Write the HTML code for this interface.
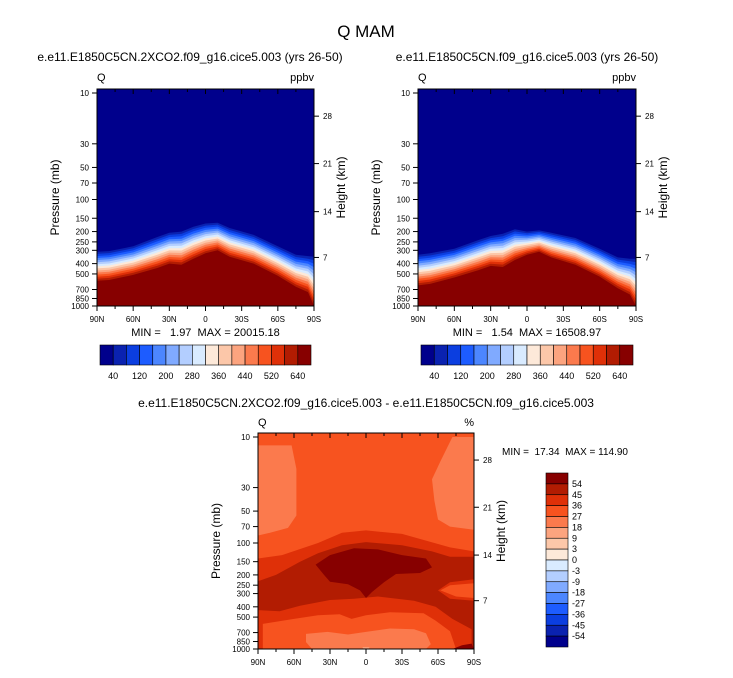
<!DOCTYPE html>
<html><head><meta charset="utf-8">
<style>
body{margin:0;background:#fff;width:733px;height:673px;overflow:hidden;font-family:"Liberation Sans",sans-serif}
svg text{font-family:"Liberation Sans",sans-serif;white-space:pre}
</style></head>
<body>
<svg id="fig" width="733" height="673" viewBox="0 0 733 673" xmlns="http://www.w3.org/2000/svg">
<text x="366" y="37" font-size="17" text-anchor="middle">Q MAM</text>
</svg>
<script>
// ---- data ----
const pressureTicks=[10,30,50,70,100,150,200,250,300,400,500,700,850,1000];
const heightTicks=[28,21,14,7];
const heightTickP=[16.5,46,130,350];
const latTicks=[90,60,30,0,-30,-60,-90];
const latLabels=["90N","60N","30N","0","30S","60S","90S"];
const levelLabelsTop=["40","120","200","280","360","440","520","640"];
const levelLabelsDiff=["54","45","36","27","18","9","3","0","-3","-9","-18","-27","-36","-45","-54"];
const colors=["#00008c","#0a22b0","#0b3ee0","#1d5cff","#4c86ff","#80aaff","#b3ceff","#d9ebff","#fde9d9","#fcc7a9","#fca47f","#fb7a4d","#f7531f","#df3008","#b21c02","#870000"];
// top panels: latitude grid, tropopause (gradient top) and dark-red top pressures
const lats=[90,80,60,40,30,20,10,0,-10,-20,-40,-60,-75,-85,-90];
const gradTopL=[310,305,275,225,205,200,180,168,165,185,215,275,330,340,345];
const redTopL=[580,570,510,440,400,410,360,320,300,345,400,520,660,740,1000];
const gradTopR=[330,320,290,240,220,210,190,200,195,205,230,290,350,360,360];
const redTopR=[640,620,540,460,420,430,370,330,310,350,410,530,680,780,1000];
// difference panel contour polygons [lat,p]
const diffRegions=[
 {c:11,pts:[[90,12],[62,12],[58,20],[58,55],[65,72],[80,80],[90,85]]},
 {c:11,pts:[[-72,10],[-90,10],[-90,75],[-70,70],[-60,60],[-57,40],[-55,25],[-62,17]]},
 {c:13,pts:[[90,140],[70,130],[40,100],[20,80],[0,76],[-30,82],[-50,95],[-70,110],[-90,120],[-90,1000],[90,1000]]},
 {c:14,pts:[[90,230],[75,200],[55,150],[40,125],[20,105],[0,98],[-30,105],[-55,120],[-70,135],[-90,135],[-90,220],[-70,235],[-60,280],[-70,335],[-90,350],[-90,1000],[90,1000]]},
 {c:12,pts:[[-62,280],[-70,250],[-90,240],[-90,330],[-75,320]]},
 {c:13,pts:[[90,430],[72,440],[55,390],[30,345],[10,335],[-10,320],[-40,350],[-58,400],[-72,520],[-88,650],[-88,1000],[90,1000]]},
 {c:12,pts:[[86,580],[60,520],[40,480],[22,470],[12,520],[0,480],[-20,450],[-48,460],[-58,540],[-70,680],[-75,1000],[86,1000]]},
 {c:11,pts:[[50,720],[32,690],[15,730],[0,690],[-20,640],[-40,650],[-50,710],[-54,900],[-50,1000],[45,1000],[50,860]]},
 {c:10,pts:[[3,960],[-3,960],[-2,1000],[2,1000]]},
 {c:15,pts:[[42,160],[30,130],[10,112],[-10,115],[-30,130],[-50,140],[-55,170],[-45,192],[-25,196],[-15,235],[-5,290],[0,330],[5,280],[15,245],[30,232],[35,200]]},
 {c:15,pts:[[-72,1000],[-80,920],[-88,890],[-90,1000]]}
];
// ---- drawing ----
const NS="http://www.w3.org/2000/svg";
const svg=document.getElementById('fig');
function el(t,a,parent){const e=document.createElementNS(NS,t);for(const k in a)e.setAttribute(k,a[k]);(parent||svg).appendChild(e);return e;}
function txt(x,y,s,size,anchor,parent){const e=el('text',{x:x,y:y,'font-size':size,'text-anchor':anchor||'middle'},parent);e.textContent=s;return e;}
function mkAxes(x0,x1,yTop,y10,y1000){
  return {x:lat=>x0+(90-lat)/180*(x1-x0), y:p=>y10+Math.log10(p/10)/2*(y1000-y10)};
}
function frame(g,x0,x1,yTop,yBot,ax){
  el('rect',{x:x0,y:yTop,width:x1-x0,height:yBot-yTop,fill:'none',stroke:'#000','stroke-width':1},g);
  pressureTicks.forEach(p=>{const y=ax.y(p);el('line',{x1:x0-5,x2:x0,y1:y,y2:y,stroke:'#000'},g);txt(x0-8,y+3,String(p),8,'end',g);});
  heightTicks.forEach((h,i)=>{const y=ax.y(heightTickP[i]);el('line',{x1:x1,x2:x1+5,y1:y,y2:y,stroke:'#000'},g);txt(x1+9,y+3,String(h),8,'start',g);});
  latTicks.forEach((l,i)=>{const x=ax.x(l);el('line',{x1:x,x2:x,y1:yBot,y2:yBot+5,stroke:'#000'},g);el('line',{x1:x,x2:x,y1:yTop,y2:yTop+5,stroke:'#000'},g);txt(x,yBot+16,latLabels[i],8,'middle',g);});
  for(let l=75;l>-90;l-=15){if(l%30===0)continue;const x=ax.x(l);el('line',{x1:x,x2:x,y1:yBot,y2:yBot+3,stroke:'#000'},g);el('line',{x1:x,x2:x,y1:yTop,y2:yTop+3,stroke:'#000'},g);}
  const yl=txt(0,0,'Pressure (mb)',12,'middle',g);yl.setAttribute('transform',`translate(${x0-38},${(yTop+yBot)/2}) rotate(-90)`);
  const hl=txt(0,0,'Height (km)',12,'middle',g);hl.setAttribute('transform',`translate(${x1+31},${(yTop+yBot)/2-10}) rotate(-90)`);
}
function topPanel(name,x0,x1,gradTop,redTop,sub,subX,minmax){
  const g=el('g',{});
  
  
  const yTop=89,yBot=306,ax=mkAxes(x0,x1,yTop,93,306);
  const clipId=name+'-clip';
  const cp=el('clipPath',{id:clipId},g);el('rect',{x:x0,y:yTop,width:x1-x0,height:yBot-yTop},cp);
  const fg=el('g',{'clip-path':`url(#${clipId})`},g);
  el('rect',{x:x0,y:yTop,width:x1-x0,height:yBot-yTop,fill:colors[0]},fg);
  for(let k=1;k<16;k++){
    const f=(k-1)/14;
    let d='';
    lats.forEach((l,i)=>{const lp=Math.log10(gradTop[i])+f*(Math.log10(redTop[i])-Math.log10(gradTop[i]));d+=(i?'L':'M')+ax.x(l).toFixed(1)+','+ax.y(Math.pow(10,lp)).toFixed(1);});
    d+=`L${x1},${yBot+2}L${x0},${yBot+2}Z`;
    const band=el('path',{d:d,fill:colors[k]},fg);
    
    
  }
  frame(g,x0,x1,yTop,yBot,ax);
  txt(subX,61,sub,12,'middle',g);
  txt(x0,81,'Q',11,'start',g);
  txt(x1,81,'ppbv',11,'end',g);
  txt((x0+x1)/2,336,minmax,11,'middle',g);
  // colorbar
  const cb=el('g',{},g);
  
  
  const cx0=x0+3,cw=(x1-x0-6)/16;
  colors.forEach((c,i)=>el('rect',{x:cx0+i*cw,y:345,width:cw,height:20,fill:c,stroke:'#000','stroke-width':0.6},cb));
  levelLabelsTop.forEach((s,i)=>{const idx=2*i+1;txt(cx0+idx*cw,379,s,9,'middle',cb);});
}
topPanel('panel-2xco2',97,314,gradTopL,redTopL,'e.e11.E1850C5CN.2XCO2.f09_g16.cice5.003 (yrs 26-50)',190,'MIN =   1.97  MAX = 20015.18');
topPanel('panel-control',418,636,gradTopR,redTopR,'e.e11.E1850C5CN.f09_g16.cice5.003 (yrs 26-50)',527,'MIN =   1.54  MAX = 16508.97');
// difference panel
(function(){
  const g=el('g',{});
  
  
  const x0=258,x1=474,yTop=433,yBot=649,ax=mkAxes(x0,x1,yTop,437,649);
  const cp=el('clipPath',{id:'dclip'},g);el('rect',{x:x0,y:yTop,width:x1-x0,height:yBot-yTop},cp);
  const fg=el('g',{'clip-path':'url(#dclip)'},g);
  el('rect',{x:x0,y:yTop,width:x1-x0,height:yBot-yTop,fill:colors[12]},fg);
  diffRegions.forEach(r=>{
    const d=r.pts.map((q,i)=>(i?'L':'M')+ax.x(q[0]).toFixed(1)+','+ax.y(q[1]).toFixed(1)).join('')+'Z';
    const p=el('path',{d:d,fill:colors[r.c]},fg);
    
    
  });
  frame(g,x0,x1,yTop,yBot,ax);
  txt(366,407,'e.e11.E1850C5CN.2XCO2.f09_g16.cice5.003 - e.e11.E1850C5CN.f09_g16.cice5.003',12,'middle',g);
  txt(x0,426,'Q',11,'start',g);
  txt(x1,426,'%',11,'end',g);
  txt(502,455,'MIN =  17.34  MAX = 114.90',10,'start',g);
  const cb=el('g',{},g);
  
  
  const bh=(647-473)/16;
  colors.slice().reverse().forEach((c,i)=>el('rect',{x:546,y:473+i*bh,width:22,height:bh,fill:c,stroke:'#000','stroke-width':0.6},cb));
  levelLabelsDiff.forEach((s,i)=>txt(572,473+(i+1)*bh+3,s,9,'start',cb));
})();
</script>
</body></html>
